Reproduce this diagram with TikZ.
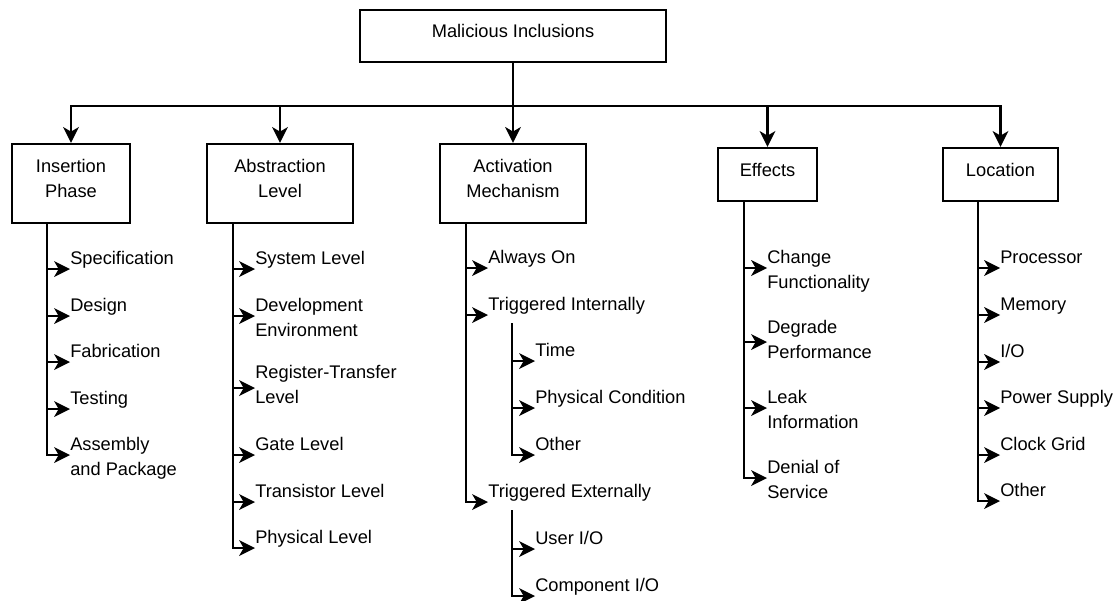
\documentclass[tikz,border=0pt]{standalone}
\usepackage{fontspec}
\setmainfont{Liberation Sans}
\usetikzlibrary{calc,decorations.markings}

\begin{document}
\begin{tikzpicture}[
    x=0.75pt, y=0.75pt,
    txt/.style={font=\fontsize{13.7pt}{18.75pt}\selectfont},
    box/.style={txt, draw, line width=1.6pt, align=center, inner sep=0pt,
                text depth=7.5pt},
    leaf/.style={txt, anchor=base west, inner sep=0pt},
    % connector with a solid notched arrowhead at its end
    conn/.style={line width=1.6pt, shorten >=5pt,
      postaction={decorate},
      decoration={markings, mark=at position 1 with {
        \fill[black] (0pt,0pt) -- (-12pt,6pt) -- (-8.5pt,0pt) -- (-12pt,-6pt) -- cycle;}}},
  ]
  \useasboundingbox (0,-600) rectangle (1119,0);

  % root and the five categories
  \node[box, minimum width=229.5pt, minimum height=39pt] (root) at (513,-36) {Malicious Inclusions};
  \node[box, minimum width=88.5pt,  minimum height=59.25pt] (ins) at (71,-183.5)  {Insertion\\Phase};
  \node[box, minimum width=109.5pt, minimum height=59.25pt] (abs) at (280,-183.5) {Abstraction\\Level};
  \node[box, minimum width=109.5pt, minimum height=59.25pt] (act) at (513,-183.5) {Activation\\Mechanism};
  \node[box, minimum width=74.25pt, minimum height=39.75pt] (eff) at (767.5,-174.5) {Effects};
  \node[box, minimum width=86.25pt, minimum height=39.75pt] (loc) at (1000.5,-174.5) {Location};

  \coordinate (bus) at (0,-106);
  \foreach \c in {ins,abs,act,eff,loc}
    \draw[conn] (root.south) -- (root.south |- bus) -| (\c.north);

  % Insertion phase
  \node[leaf] (i1) at (70,-264) {Specification};
  \node[leaf] (i2) at (70,-311) {Design};
  \node[leaf] (i3) at (70,-357) {Fabrication};
  \node[leaf] (i4) at (70,-404) {Testing};
  \node[leaf] (i5) at (70,-450) {\begin{tabular}[t]{@{}l@{}}Assembly\\and Package\end{tabular}};
  \foreach \n in {i1,i2,i3,i4,i5}
    \draw[conn] ($(ins.south)+(-24,0)$) |- ($(\n.base west)+(0,-5)$);

  % Abstraction level
  \node[leaf] (a1) at (255,-264) {System Level};
  \node[leaf] (a2) at (255,-311) {\begin{tabular}[t]{@{}l@{}}Development\\Environment\end{tabular}};
  \node[leaf] (a3) at (255,-378) {\begin{tabular}[t]{@{}l@{}}Register-Transfer\\Level\end{tabular}};
  \node[leaf] (a4) at (255,-450) {Gate Level};
  \node[leaf] (a5) at (255,-497) {Transistor Level};
  \node[leaf] (a6) at (255,-543) {Physical Level};
  \foreach \n in {a1,a2,a4,a5,a6}
    \draw[conn] ($(abs.south)+(-47,0)$) |- ($(\n.base west)+(0,-5)$);
  \draw[conn] ($(abs.south)+(-47,0)$) |- ($(a3.base west)+(0,-10)$);

  % Activation mechanism
  \node[leaf] (m1) at (488,-263) {Always On};
  \node[leaf] (ti) at (488,-310) {Triggered Internally};
  \node[leaf] (te) at (488,-497) {Triggered Externally};
  \foreach \n in {m1,ti,te}
    \draw[conn] ($(act.south)+(-47,0)$) |- ($(\n.base west)+(0,-5)$);

  \node[leaf] (t1) at (535,-356) {Time};
  \node[leaf] (t2) at (535,-403) {Physical Condition};
  \node[leaf] (t3) at (535,-450) {Other};
  \foreach \n in {t1,t2,t3}
    \draw[conn] ($(ti.base west)+(24,-13)$) |- ($(\n.base west)+(0,-5)$);

  \node[leaf] (e1) at (535,-544) {User I/O};
  \node[leaf] (e2) at (535,-591) {Component I/O};
  \foreach \n in {e1,e2}
    \draw[conn] ($(te.base west)+(24,-13)$) |- ($(\n.base west)+(0,-5)$);

  % Effects
  \node[leaf] (f1) at (767,-263) {\begin{tabular}[t]{@{}l@{}}Change\\Functionality\end{tabular}};
  \node[leaf] (f2) at (767,-333) {\begin{tabular}[t]{@{}l@{}}Degrade\\Performance\end{tabular}};
  \node[leaf] (f3) at (767,-403) {\begin{tabular}[t]{@{}l@{}}Leak\\Information\end{tabular}};
  \node[leaf] (f4) at (767,-473) {\begin{tabular}[t]{@{}l@{}}Denial of\\Service\end{tabular}};
  \foreach \n in {f1,f3,f4}
    \draw[conn] ($(eff.south)+(-23.5,0)$) |- ($(\n.base west)+(0,-5)$);
  \draw[conn] ($(eff.south)+(-23.5,0)$) |- ($(f2.base west)+(0,-9)$);

  % Location
  \node[leaf] (l1) at (1000,-263) {Processor};
  \node[leaf] (l2) at (1000,-310) {Memory};
  \node[leaf] (l3) at (1000,-357) {I/O};
  \node[leaf] (l4) at (1000,-403) {Power Supply};
  \node[leaf] (l5) at (1000,-450) {Clock Grid};
  \node[leaf] (l6) at (1000,-496) {Other};
  \foreach \n in {l1,l2,l3,l4,l5,l6}
    \draw[conn] ($(loc.south)+(-22.5,0)$) |- ($(\n.base west)+(0,-5)$);
\end{tikzpicture}
\end{document}
